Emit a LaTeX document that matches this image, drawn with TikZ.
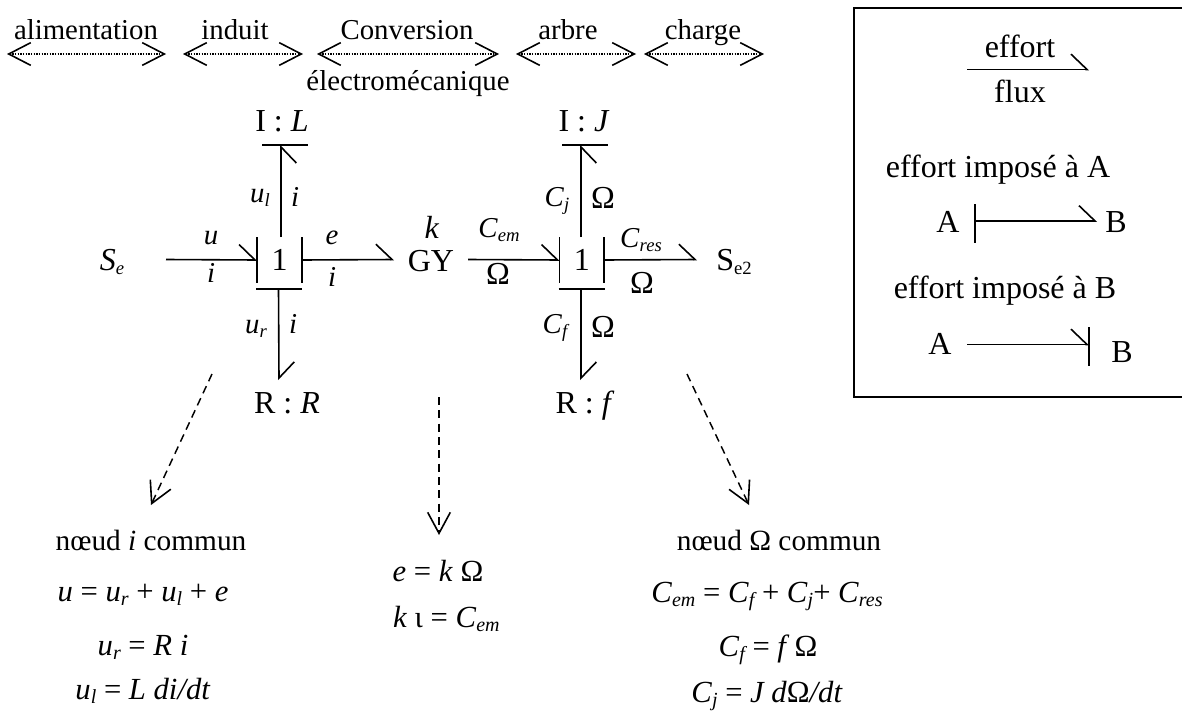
\documentclass[tikz,border=0pt]{standalone}
\usepackage{fontspec}
\setmainfont{Liberation Serif}
\usetikzlibrary{arrows.meta}
\newcommand{\subsz}{14}
\newcommand{\myit}[1]{\textit{#1}}
\newcommand{\mysub}[1]{\raisebox{-0.14em}{\fontsize{\subsz}{\subsz}\selectfont\itshape #1}}
\newcommand{\myrm}[1]{\raisebox{-0.14em}{\fontsize{\subsz}{\subsz}\selectfont #1}}
\tikzset{
  txt/.style={inner sep=0pt,outer sep=0pt,anchor=base,font=\fontsize{21.6}{26}\selectfont},
  bigtxt/.style={txt,font=\fontsize{24}{28}\selectfont},
  eqtxt/.style={txt,font=\fontsize{23}{28}\selectfont\renewcommand{\subsz}{15}},
  nodetxt/.style={txt,font=\fontsize{22}{26}\selectfont},
  junction/.style={inner sep=0pt,outer sep=0pt,minimum height=34.5pt,font=\fontsize{24}{28}\selectfont},
  plainline/.style={line width=1.2pt,line join=miter},
  barline/.style={line width=1.5pt},
  bondleft/.style={plainline,-{Straight Barb[left,length=12pt,width=23pt,line width=1.2pt]}},
  bondright/.style={plainline,-{Straight Barb[right,length=12pt,width=23pt,line width=1.2pt]}},
  zone/.style={line width=1pt,dash pattern=on 1pt off 1pt,{Straight Barb[length=16.5pt,width=17pt,line width=1.2pt]}-{Straight Barb[length=16.5pt,width=17pt,line width=1.2pt]}},
  derive/.style={line width=1.1pt,dash pattern=on 6pt off 4pt,-{Straight Barb[length=15.75pt,width=17pt,line width=1.2pt]}}
}
\begin{document}
\begin{tikzpicture}[x=0.75pt,y=-0.75pt]
\useasboundingbox (0,0) rectangle (1182,714);
% zones
\node[txt] (talim) at (86,39) {alimentation};
\node[txt] (tind) at (235,39) {induit};
\node[txt] (tconv) at (407,39) {Conversion};
\node[txt] (telec) at (408,90) {électromécanique};
\node[txt] (tarb) at (568,39) {arbre};
\node[txt] (tchg) at (703,39) {charge};
\coordinate (z1a) at (7,54); \coordinate (z1b) at (166,54);
\coordinate (z2a) at (183,54); \coordinate (z2b) at (303,54);
\coordinate (z3a) at (317,54); \coordinate (z3b) at (499,54);
\coordinate (z4a) at (516,54); \coordinate (z4b) at (636,54);
\coordinate (z5a) at (644,54); \coordinate (z5b) at (764,54);
\draw[zone] (z1a) -- (z1b);
\draw[zone] (z2a) -- (z2b);
\draw[zone] (z3a) -- (z3b);
\draw[zone] (z4a) -- (z4b);
\draw[zone] (z5a) -- (z5b);
% elements
\node[bigtxt] (Se) at (112,270) {\myit{S}\mysub{e}};
\node[junction,minimum width=33.75pt] (j1) at (279.5,260) {1};
\node[bigtxt] (GY) at (431,271) {GY};
\node[bigtxt] (kk) at (432,238) {\myit{k}};
\node[junction,minimum width=33.4pt] (j2) at (581.75,260) {1};
\node[bigtxt] (Se2) at (734,270) {S\myrm{e2}};
\node[bigtxt] (IL) at (282,131) {I : \myit{L}};
\node[bigtxt] (IJ) at (584,131) {I : \myit{J}};
\node[bigtxt] (RR) at (287,413) {R : \myit{R}};
\node[bigtxt] (RF) at (585,413) {R : \myit{f}};
% bonds
\draw[bondleft] ([shift={(54,-10.5)}]Se.base) -- (j1.west);
\draw[plainline] (j1.north west) -- (j1.south west);
\draw[plainline] (j1.north east) -- (j1.south east);
\draw[barline] ([shift={(-1,5.5)}]j1.south west) -- ([shift={(0,5.5)}]j1.south east);
\draw[bondleft] (j1.east) -- ([shift={(-37,-11.5)}]GY.base);
\draw[bondright] ([shift={(1.5,0)}]j1.north) -- ([shift={(-1,14)}]IL.base);
\draw[barline] ([shift={(-20,13.5)}]IL.base) -- ([shift={(26,13.5)}]IL.base);
\draw[bondleft] ([shift={(-1,5.5)}]j1.south) -- ([shift={(-8,-33)}]RR.base);
\draw[bondleft] ([shift={(37,-11.5)}]GY.base) -- (j2.west);
\draw[plainline] (j2.north west) -- (j2.south west);
\draw[plainline] (j2.north east) -- (j2.south east);
\draw[barline] ([shift={(-0.75,5.5)}]j2.south west) -- ([shift={(0.75,5.5)}]j2.south east);
\draw[bondleft] (j2.east) -- ([shift={(-37,-10.5)}]Se2.base);
\draw[bondright] ([shift={(-0.75,0)}]j2.north) -- ([shift={(-3,14)}]IJ.base);
\draw[barline] ([shift={(-22,13.5)}]IJ.base) -- ([shift={(24,13.5)}]IJ.base);
\draw[bondleft] ([shift={(-0.75,5.5)}]j2.south) -- ([shift={(-4,-33)}]RF.base);
% bond labels
\node[txt] (lu) at (211,244) {\myit{u}};
\node[txt] (li1) at (211,282) {\myit{i}};
\node[txt] (lul) at (260,202) {\myit{u}\mysub{l}};
\node[txt] (li2) at (295,206) {\myit{i}};
\node[txt] (le) at (332,244) {\myit{e}};
\node[txt] (li3) at (332,286) {\myit{i}};
\node[txt] (lur) at (256,333) {\myit{u}\mysub{r}};
\node[txt] (li4) at (293,333) {\myit{i}};
\node[txt] (lcem) at (499,237) {\myit{C}\mysub{em}};
\node[bigtxt] (lo1) at (498,284) {Ω};
\node[txt] (lcj) at (557,206) {\myit{C}\mysub{j}};
\node[bigtxt] (lo2) at (603,208) {Ω};
\node[txt] (lcres) at (641,247) {\myit{C}\mysub{res}};
\node[bigtxt] (lo3) at (642,293) {Ω};
\node[txt] (lcf) at (555,333) {\myit{C}\mysub{f}};
\node[bigtxt] (lo4) at (603,337) {Ω};
% legend
\node[draw,line width=1.2pt,inner sep=0pt,minimum width=249pt,minimum height=291.75pt] (legend) at (1020,202.5) {};
\node[bigtxt] (leff) at (1020,57) {effort};
\node[bigtxt] (lflux) at (1020,102) {flux};
\coordinate (leg0a) at (967,69.5); \coordinate (leg0b) at (1089,69.5);
\draw[bondleft] (leg0a) -- (leg0b);
\node[bigtxt] (limpA) at (998,177) {effort imposé à A};
\node[bigtxt] (A1) at (948,232) {A};
\node[bigtxt] (B1) at (1116,232) {B};
\draw[bondleft] ([shift={(27,-11)}]A1.base) -- ([shift={(-19,-11)}]B1.base);
\draw[plainline] ([shift={(27,-28)}]A1.base) -- ([shift={(27,11)}]A1.base);
\node[bigtxt] (limpB) at (1005,298) {effort imposé à B};
\node[bigtxt] (A2) at (940,354) {A};
\node[bigtxt] (B2) at (1122,362) {B};
\draw[bondleft] ([shift={(27,-9.5)}]A2.base) -- ([shift={(-33,-17.5)}]B2.base);
\draw[plainline] ([shift={(-33,-35)}]B2.base) -- ([shift={(-33,4)}]B2.base);
% equations
\node[nodetxt] (n1) at (151,550) {nœud \myit{i} commun};
\node[eqtxt] (eq1) at (143,601) {\myit{u} = \myit{u}\mysub{r} + \myit{u}\mysub{l} + \myit{e}};
\node[eqtxt] (eq2) at (143,655) {\myit{u}\mysub{r} = \myit{R i}};
\node[eqtxt] (eq3) at (143,699) {\myit{u}\mysub{l} = \myit{L di/dt}};
\node[eqtxt] (n2a) at (438,581) {\myit{e} = \myit{k} Ω};
\node[eqtxt,anchor=base west] (n2b) at (393,627) {\myit{k} ι = \myit{C}\mysub{em}};
\node[nodetxt] (n3) at (779,550) {nœud Ω commun};
\node[eqtxt] (eq4) at (767,602) {\myit{C}\mysub{em} = \myit{C}\mysub{f} + \myit{C}\mysub{j}+ \myit{C}\mysub{res}};
\node[eqtxt] (eq5) at (768,656) {\myit{C}\mysub{f} = \myit{f}\,Ω};
\node[eqtxt] (eq6) at (767,702) {\myit{C}\mysub{j} = \myit{J d}Ω\myit{/dt}};
\coordinate (d1) at (212,374); \coordinate (d2) at (439,397); \coordinate (d3) at (687,374);
\draw[derive] (d1) -- ([shift={(0,-45)}]n1.base);
\draw[derive] (d2) -- ([shift={(1,-46)}]n2a.base);
\draw[derive] (d3) -- ([shift={(-30,-45)}]n3.base);
\end{tikzpicture}
\end{document}
